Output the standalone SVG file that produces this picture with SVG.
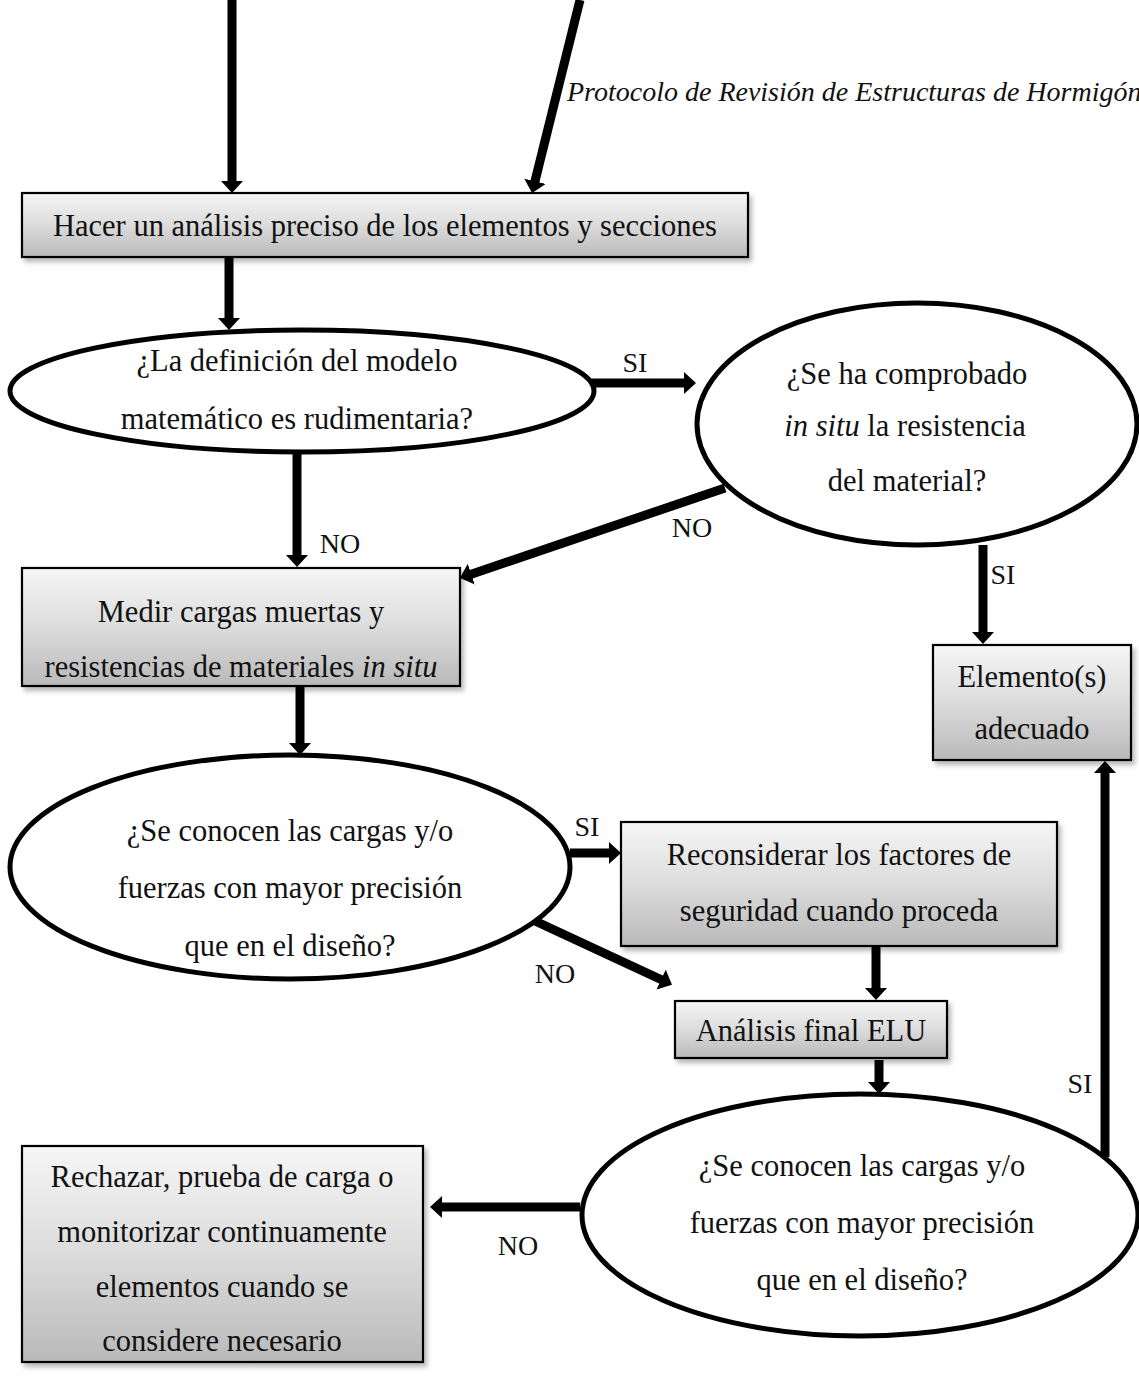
<svg xmlns="http://www.w3.org/2000/svg" width="1139" height="1377" viewBox="0 0 1139 1377">
  <style>
    text { font-family: "Liberation Serif", "Times New Roman", serif; fill: #111; }
    .t { font-size: 30.5px; text-anchor: middle; }
    .lbl { font-size: 28px; text-anchor: middle; }
    .title { font-size: 28px; font-style: italic; }
    .box { fill: url(#boxFill); stroke: #000; stroke-width: 2.2; filter: url(#shadow); }
    .oval { fill: #fff; stroke: #000; stroke-width: 5; }
    .arrow { stroke: #000; stroke-width: 9; fill: none; marker-end: url(#head); }
  </style>
  <defs>
    <linearGradient id="boxFill" x1="0" y1="0" x2="0" y2="1">
      <stop offset="0" stop-color="#f6f6f6"/>
      <stop offset="0.5" stop-color="#dcdcdc"/>
      <stop offset="1" stop-color="#b9b9b9"/>
    </linearGradient>
    <filter id="shadow" x="-10%" y="-10%" width="125%" height="130%">
      <feDropShadow dx="3" dy="4" stdDeviation="2.5" flood-color="#000" flood-opacity="0.28"/>
    </filter>
    <marker id="head" markerUnits="userSpaceOnUse" markerWidth="14" markerHeight="24" refX="1" refY="11" orient="auto">
      <path d="M0,0 L12,11 L0,22 Z" fill="#000"/>
    </marker>
  </defs>

  <text class="title" x="567" y="101">Protocolo de Revisión de Estructuras de Hormigón</text>

  <!-- connectors -->
  <g id="connectors">
    <line class="arrow" x1="232" y1="0" x2="232" y2="182"/>
    <line class="arrow" x1="580" y1="0" x2="534.7" y2="182.3"/>
    <line class="arrow" x1="229" y1="257" x2="229" y2="319"/>
    <line class="arrow" x1="590" y1="383" x2="685" y2="383"/>
    <line class="arrow" x1="725" y1="488" x2="470.4" y2="574.5"/>
    <line class="arrow" x1="297" y1="452" x2="297" y2="556"/>
    <line class="arrow" x1="983" y1="545" x2="983" y2="633"/>
    <line class="arrow" x1="300" y1="687" x2="300" y2="744"/>
    <line class="arrow" x1="570" y1="853" x2="610" y2="853"/>
    <line class="arrow" x1="535" y1="921" x2="662" y2="980"/>
    <line class="arrow" x1="876" y1="946" x2="876" y2="989"/>
    <line class="arrow" x1="879" y1="1060" x2="879" y2="1083"/>
    <line class="arrow" x1="1105" y1="1157" x2="1105" y2="772"/>
    <line class="arrow" x1="580" y1="1207" x2="441" y2="1207"/>
    <text class="lbl" x="635" y="372">SI</text>
    <text class="lbl" x="692" y="537">NO</text>
    <text class="lbl" x="340" y="553">NO</text>
    <text class="lbl" x="1003" y="584">SI</text>
    <text class="lbl" x="587" y="836">SI</text>
    <text class="lbl" x="555" y="983">NO</text>
    <text class="lbl" x="1080" y="1093">SI</text>
    <text class="lbl" x="518" y="1255">NO</text>
  </g>

  <g id="analisis-preciso">
    <rect class="box" x="22" y="193" width="726" height="64"/>
    <text class="t" x="385" y="236">Hacer un análisis preciso de los elementos y secciones</text>
  </g>

  <g id="modelo-rudimentario">
    <ellipse class="oval" cx="302" cy="391" rx="292" ry="61"/>
    <text class="t" x="297" y="371">¿La definición del modelo</text>
    <text class="t" x="297" y="429">matemático es rudimentaria?</text>
  </g>

  <g id="resistencia-comprobada">
    <ellipse class="oval" cx="917" cy="424" rx="220" ry="121"/>
    <text class="t" x="907" y="384">¿Se ha comprobado</text>
    <text class="t" x="905" y="436"><tspan font-style="italic">in situ</tspan> la resistencia</text>
    <text class="t" x="907" y="491">del material?</text>
  </g>

  <g id="medir-cargas">
    <rect class="box" x="22" y="568" width="438" height="118"/>
    <text class="t" x="241" y="622">Medir cargas muertas y</text>
    <text class="t" x="241" y="677">resistencias de materiales <tspan font-style="italic">in situ</tspan></text>
  </g>

  <g id="elemento-adecuado">
    <rect class="box" x="933" y="645" width="198" height="115"/>
    <text class="t" x="1032" y="687">Elemento(s)</text>
    <text class="t" x="1032" y="739">adecuado</text>
  </g>

  <g id="cargas-precision-1">
    <ellipse class="oval" cx="290" cy="867" rx="280" ry="112"/>
    <text class="t" x="290" y="841">¿Se conocen las cargas y/o</text>
    <text class="t" x="290" y="898">fuerzas con mayor precisión</text>
    <text class="t" x="290" y="956">que en el diseño?</text>
  </g>

  <g id="reconsiderar-factores">
    <rect class="box" x="621" y="822" width="436" height="124"/>
    <text class="t" x="839" y="865">Reconsiderar los factores de</text>
    <text class="t" x="839" y="921">seguridad cuando proceda</text>
  </g>

  <g id="analisis-final">
    <rect class="box" x="675" y="1001" width="272" height="57"/>
    <text class="t" x="811" y="1041">Análisis final ELU</text>
  </g>

  <g id="cargas-precision-2">
    <ellipse class="oval" cx="860" cy="1215" rx="278" ry="121"/>
    <text class="t" x="862" y="1176">¿Se conocen las cargas y/o</text>
    <text class="t" x="862" y="1233">fuerzas con mayor precisión</text>
    <text class="t" x="862" y="1290">que en el diseño?</text>
  </g>

  <g id="rechazar">
    <rect class="box" x="22" y="1146" width="401" height="216"/>
    <text class="t" x="222" y="1187">Rechazar, prueba de carga o</text>
    <text class="t" x="222" y="1242">monitorizar continuamente</text>
    <text class="t" x="222" y="1297">elementos cuando se</text>
    <text class="t" x="222" y="1351">considere necesario</text>
  </g>
</svg>
